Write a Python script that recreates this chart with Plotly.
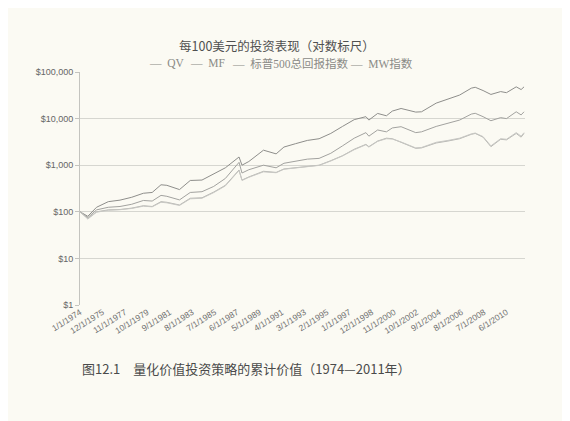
import plotly.graph_objects as go

# ---- data (values in $ per $100 invested) ----
dates = ["1974-01-01", "1974-09-01", "1975-06-01", "1976-06-01", "1977-06-01", "1978-06-01",
         "1979-06-01", "1980-03-01", "1980-12-01", "1981-06-01", "1982-07-01", "1983-06-01",
         "1984-06-01", "1985-06-01", "1986-06-01", "1987-08-01", "1987-11-01", "1988-06-01",
         "1989-09-01", "1990-10-01", "1991-06-01", "1992-06-01", "1993-06-01", "1994-06-01",
         "1995-06-01", "1996-06-01", "1997-06-01", "1998-06-01", "1998-09-01", "1999-06-01",
         "2000-03-01", "2000-09-01", "2001-06-01", "2002-09-01", "2003-03-01", "2004-06-01",
         "2005-06-01", "2006-06-01", "2007-06-01", "2007-10-01", "2008-06-01", "2009-02-01",
         "2009-12-01", "2010-06-01", "2011-04-01", "2011-09-01", "2011-12-01"]

qv = [100, 80, 125, 165, 178, 205, 250, 260, 380, 370, 300, 470,
      480, 640, 880, 1500, 1000, 1200, 2100, 1750, 2450, 2900, 3400, 3700,
      4800, 6800, 9500, 11000, 9300, 12900, 11500, 14500, 16500, 13800, 14000, 21500,
      26000, 32000, 45000, 47000, 40000, 33000, 38000, 36000, 48000, 42000, 48000]

mf = [100, 75, 110, 125, 130, 145, 175, 170, 225, 215, 180, 260,
      270, 350, 520, 1150, 680, 800, 1000, 880, 1100, 1200, 1350, 1400,
      1800, 2600, 3800, 5000, 4200, 5700, 5200, 6300, 6700, 5000, 5200, 6800,
      8000, 9300, 12500, 13000, 11000, 9000, 10500, 10000, 14000, 12000, 14000]

sp500 = [100, 72, 100, 110, 112, 120, 135, 130, 165, 160, 140, 195,
         200, 265, 370, 790, 480, 560, 740, 700, 830, 880, 960, 1000,
         1250, 1600, 2200, 2800, 2500, 3300, 3800, 3700, 3100, 2300, 2350, 3000,
         3300, 3700, 4600, 4800, 4000, 2500, 3600, 3500, 4800, 4000, 4800]

mw = [100, 70, 98, 108, 111, 118, 132, 128, 160, 156, 137, 190,
      195, 258, 360, 770, 470, 550, 720, 690, 820, 870, 950, 990,
      1230, 1580, 2150, 2750, 2450, 3250, 3700, 3650, 3150, 2350, 2400, 3100,
      3400, 3800, 4700, 4900, 4100, 2600, 3700, 3600, 5000, 4200, 5000]

series_names = ["QV", "MF", "标普500总回报指数", "MW指数"]
series_colors = ["#8e8e8b", "#a2a29f", "#b6b6b2", "#c8c8c4"]

tick_dates = ["1974-01-01", "1975-12-01", "1977-11-01", "1979-10-01", "1981-09-01",
              "1983-08-01", "1985-07-01", "1987-06-01", "1989-05-01", "1991-04-01",
              "1993-03-01", "1995-02-01", "1997-01-01", "1998-12-01", "2000-11-01",
              "2002-10-01", "2004-09-01", "2006-08-01", "2008-07-01", "2010-06-01"]
tick_labels = ["1/1/1974", "12/1/1975", "11/1/1977", "10/1/1979", "9/1/1981",
               "8/1/1983", "7/1/1985", "6/1/1987", "5/1/1989", "4/1/1991",
               "3/1/1993", "2/1/1995", "1/1/1997", "12/1/1998", "11/1/2000",
               "10/1/2002", "9/1/2004", "8/1/2006", "7/1/2008", "6/1/2010"]

y_ticks = [1, 10, 100, 1000, 10000, 100000]
y_labels = ["$1", "$10", "$100", "$1,000", "$10,000", "$100,000"]

title_text = "每100美元的投资表现（对数标尺）"
caption_text = "图12.1　量化价值投资策略的累计价值（1974—2011年）"

BG = "#fbfaf3"
PL, PT, PW, PH = 80, 72, 445, 233  # target plot box in page pixels
OFF = 8  # page body margin


def px_x(p):
    return (p - PL) / PW


def px_y(p):
    return (PT + PH - p) / PH


fig = go.Figure()
for name, vals, col in zip(series_names, [qv, mf, sp500, mw], series_colors):
    fig.add_trace(go.Scatter(x=dates, y=vals, mode="lines", name=name,
                             line=dict(color=col, width=1), showlegend=False))

# custom legend (short dashes before serif labels)
legend_pos = [147, 188, 230, 348]
for px, name, col in zip(legend_pos, series_names, series_colors):
    fig.add_annotation(xref="paper", yref="paper",
                       x=px_x(px), y=px_y(63),
                       xanchor="left", yanchor="middle", showarrow=False,
                       text="—  " + name,
                       font=dict(family="Liberation Serif, Noto Sans CJK SC, serif",
                                 size=11.5, color="#8a8a86"))

fig.add_annotation(xref="paper", yref="paper", x=px_x(277), y=px_y(46),
                   xanchor="center", yanchor="middle", showarrow=False, text=title_text,
                   font=dict(family="Noto Sans CJK SC, sans-serif", size=12.5, color="#505050"))

fig.add_annotation(xref="paper", yref="paper", x=0.0, y=px_y(368),
                   xanchor="left", yanchor="middle", showarrow=False, text=caption_text,
                   font=dict(family="Noto Sans CJK SC, sans-serif", size=13, color="#4a4a4a"))

fig.update_layout(
    width=570, height=421,
    margin=dict(l=PL - OFF, r=570 - (PL - OFF) - PW, t=PT - OFF, b=421 - (PT - OFF) - PH),
    paper_bgcolor=BG, plot_bgcolor=BG,
    showlegend=False,
    font=dict(family="Liberation Sans, Arial, sans-serif", size=9, color="#666666"),
)
fig.update_xaxes(type="date", range=["1974-01-01", "2011-12-31"],
                 tickvals=tick_dates, ticktext=tick_labels, tickangle=-32,
                 showgrid=False, zeroline=False, showline=False,
                 tickfont=dict(size=8.5, color="#707070"), ticks="")
fig.update_yaxes(type="log", range=[0, 5], tickvals=y_ticks, ticktext=y_labels,
                 showgrid=True, gridcolor="#d6d6d0", gridwidth=1,
                 showline=True, linecolor="#c4c4bf", linewidth=1,
                 ticks="outside", ticklen=4, tickcolor="#c4c4bf",
                 tickfont=dict(size=9, color="#666666"), zeroline=False)

fig.write_html("out.html")
